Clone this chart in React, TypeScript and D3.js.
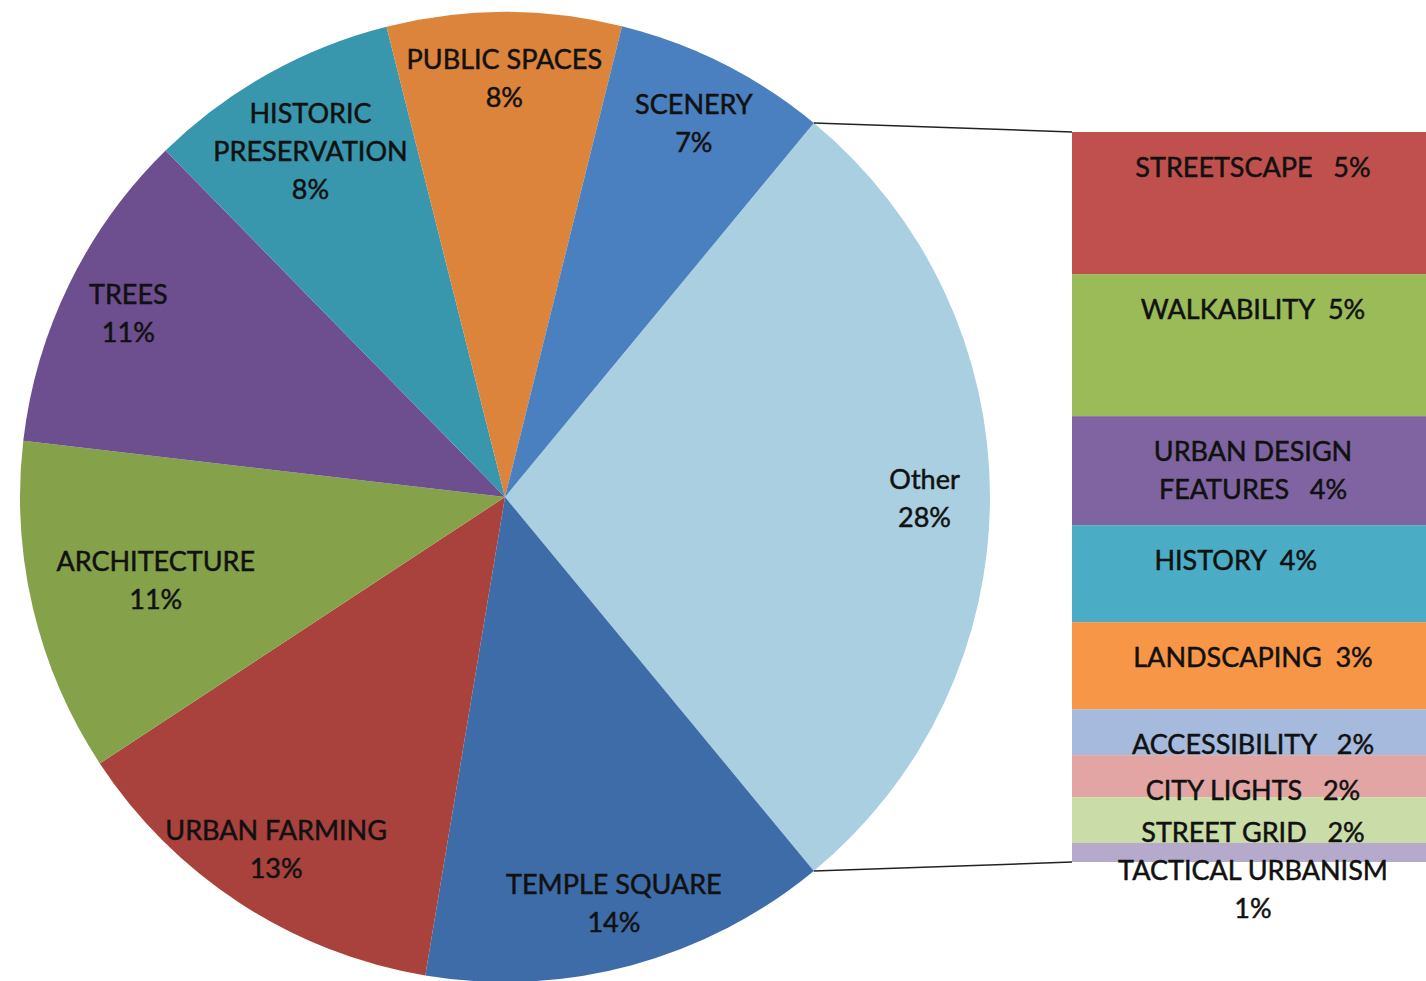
import React from "react";
import { pie, arc, scaleLinear, sum } from "d3";

// main pie categories (Other is the sum of the bar items)
const pieNames = ["TEMPLE SQUARE", "URBAN FARMING", "ARCHITECTURE", "TREES", "HISTORIC PRESERVATION", "PUBLIC SPACES", "SCENERY"];
const pieValues = [13.6, 13.1, 11.1, 10.8, 8.4, 7.8, 7.1];
const pieColors = ["#3d6ca8", "#a9413d", "#85a24b", "#6d4e8f", "#3896ad", "#dc843b", "#4a7fc0"];

// breakdown of "Other"
const barNames = ["STREETSCAPE", "WALKABILITY", "URBAN DESIGN FEATURES", "HISTORY", "LANDSCAPING", "ACCESSIBILITY", "CITY LIGHTS", "STREET GRID", "TACTICAL URBANISM"];
const barValues = [5.45, 5.45, 4.18, 3.72, 3.34, 1.76, 1.61, 1.76, 0.73];
const barColors = ["#c0504d", "#9bbb59", "#8064a2", "#4bacc6", "#f79646", "#a6badd", "#e2a5a4", "#cadca7", "#b5aacc"];

// how the labels break into lines
const pieLabelLines = {
  "HISTORIC PRESERVATION": ["HISTORIC", "PRESERVATION"],
};
const barLabelText = (name, pct) => {
  if (name === "URBAN DESIGN FEATURES") return ["URBAN DESIGN", `FEATURES   ${pct}%`];
  if (name === "TACTICAL URBANISM") return ["TACTICAL URBANISM", `${pct}%`];
  if (name === "HISTORY") return [`HISTORY  ${pct}%     `];
  const gap = ["STREETSCAPE", "ACCESSIBILITY", "CITY LIGHTS", "STREET GRID"].includes(name) ? "   " : "  ";
  return [`${name}${gap}${pct}%`];
};
// radial placement of pie labels (fraction of radius)
const labelRadius = { "HISTORIC PRESERVATION": 0.82, ARCHITECTURE: 0.74 };

const W = 1426;
const H = 981;
const cx = 505;
const cy = 497;
const R = 485;
const FONT = "Lato, 'Open Sans', sans-serif";
const LINE = 38;

export default function App() {
  const otherValue = sum(barValues);
  const data = [
    { name: "Other", value: otherValue, color: "#a9cfe0" },
    ...pieNames.map((n, i) => ({ name: n, value: pieValues[i], color: pieColors[i] })),
  ];
  const total = sum(data, (d) => d.value);
  const otherSpan = (otherValue / total) * Math.PI * 2;
  const start = Math.PI / 2 - otherSpan / 2;

  const slices = pie()
    .sort(null)
    .value((d) => d.value)
    .startAngle(start)
    .endAngle(start + Math.PI * 2)(data);

  const arcGen = arc().innerRadius(0).outerRadius(R);

  const barX0 = 1072;
  const barX1 = 1434;
  const barY = scaleLinear().domain([0, otherValue]).range([132, 862]);
  let acc = 0;
  const bars = barValues.map((v, i) => {
    const b = { name: barNames[i], value: v, color: barColors[i], y0: barY(acc), y1: barY(acc + v) };
    acc += v;
    return b;
  });

  const other = slices[0];
  const pt = (a) => [cx + R * Math.sin(a), cy - R * Math.cos(a)];
  const [ax, ay] = pt(other.startAngle);
  const [bx, by] = pt(other.endAngle);
  const barCx = (barX0 + barX1) / 2;

  const textProps = { textAnchor: "middle", fontSize: "27", fill: "#111", stroke: "#111", strokeWidth: 0.5 };

  return (
    <svg width={W} height={H} style={{ position: "absolute", left: 0, top: 0, background: "#fff" }} fontFamily={FONT}>
      <g transform={`translate(${cx}, ${cy})`}>
        {slices.map((s, i) => (
          <path key={i} d={arcGen(s)} fill={s.data.color} />
        ))}
        {slices.map((s, i) => {
          const name = s.data.name;
          const mid = (s.startAngle + s.endAngle) / 2;
          const r = R * (labelRadius[name] || 0.865);
          const x = r * Math.sin(mid);
          const y = -r * Math.cos(mid);
          const pct = Math.round((s.data.value / total) * 100);
          const lines = [...(pieLabelLines[name] || [name]), `${pct}%`];
          const top = y - ((lines.length - 1) * LINE) / 2;
          return (
            <text key={i} {...textProps}>
              {lines.map((l, j) => (
                <tspan key={j} x={x} y={top + j * LINE} dominantBaseline="central">{l}</tspan>
              ))}
            </text>
          );
        })}
      </g>

      <line x1={ax} y1={ay} x2={barX0} y2={barY(0)} stroke="#222" strokeWidth="1.5" />
      <line x1={bx} y1={by} x2={barX0} y2={barY(otherValue)} stroke="#222" strokeWidth="1.5" />

      {bars.map((b, i) => (
        <rect key={i} x={barX0} y={b.y0} width={barX1 - barX0} height={b.y1 - b.y0} fill={b.color} />
      ))}
      {bars.map((b, i) => {
        const pct = Math.round((b.value / total) * 100);
        const lines = barLabelText(b.name, pct);
        const offset = b.y1 - b.y0 < 30 ? 27 : 34;
        return (
          <text key={i} {...textProps} style={{ whiteSpace: "pre" }}>
            {lines.map((l, j) => (
              <tspan key={j} x={barCx} y={b.y0 + offset + j * LINE} dominantBaseline="central">{l}</tspan>
            ))}
          </text>
        );
      })}
    </svg>
  );
}
